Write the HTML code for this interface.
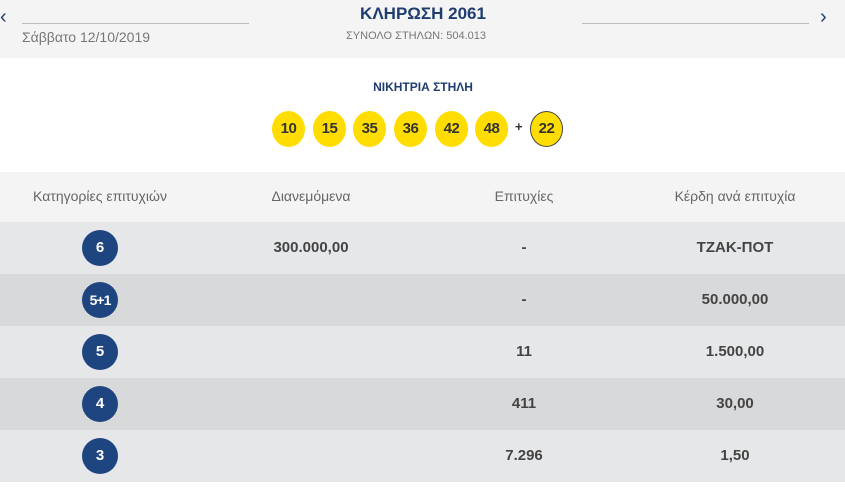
<!DOCTYPE html>
<html><head><meta charset="utf-8"><style>
*{margin:0;padding:0;box-sizing:border-box}
body{width:845px;height:492px;background:#fff;font-family:"Liberation Sans","DejaVu Sans",sans-serif;position:relative;overflow:hidden}
.a{position:absolute}
.c{position:absolute;transform:translateX(-50%);white-space:nowrap}
.ball{position:absolute;width:33px;height:36px;border-radius:50%;background:#ffdd00;top:111px;font-weight:bold;font-size:15px;color:#333;text-align:center;line-height:36px;letter-spacing:-0.5px}
.row{position:absolute;left:0;width:845px;height:52px}
.cat{position:absolute;left:82px;width:36px;height:36px;border-radius:50%;background:#1f4580;color:#fff;font-weight:bold;font-size:15px;text-align:center;line-height:36px;top:8px}
.v{position:absolute;top:0;line-height:52px;font-weight:bold;font-size:15px;color:#444;transform:translateX(-50%);white-space:nowrap}
</style></head><body>
<div class="a" style="left:0;top:0;width:845px;height:58px;background:#f4f4f4"></div>
<div class="a" style="left:0;top:6px;font-size:20px;color:#1f3d70">‹</div>
<div class="a" style="left:820px;top:6px;font-size:20px;color:#1f3d70">›</div>
<div class="a" style="left:22px;top:23px;width:227px;height:1px;background:#bbb"></div>
<div class="a" style="left:582px;top:23px;width:227px;height:1px;background:#bbb"></div>
<div class="a" style="left:22px;top:29px;font-size:14px;color:#777">Σάββατο 12/10/2019</div>
<div class="c" style="left:423px;top:4px;font-size:17px;font-weight:bold;color:#1f3d70">ΚΛΗΡΩΣΗ 2061</div>
<div class="c" style="left:416px;top:30px;font-size:11px;color:#777">ΣΥΝΟΛΟ ΣΤΗΛΩΝ: 504.013</div>
<div class="c" style="left:423px;top:80px;font-size:12px;font-weight:bold;color:#1f3d70">ΝΙΚΗΤΡΙΑ ΣΤΗΛΗ</div>
<div class="ball" style="left:272px">10</div>
<div class="ball" style="left:313px">15</div>
<div class="ball" style="left:353px">35</div>
<div class="ball" style="left:394px">36</div>
<div class="ball" style="left:435px">42</div>
<div class="ball" style="left:475px">48</div>
<div class="a" style="left:515px;top:119px;font-size:13px;font-weight:bold;color:#333">+</div>
<div class="ball" style="left:530px;border:1px solid #444;line-height:34px">22</div>
<div class="a" style="left:0;top:172px;width:845px;height:50px;background:#f4f4f4"></div>
<div class="c" style="left:100px;top:188px;font-size:14px;color:#666">Κατηγορίες επιτυχιών</div>
<div class="c" style="left:311px;top:188px;font-size:14px;color:#666">Διανεμόμενα</div>
<div class="c" style="left:524px;top:188px;font-size:14px;color:#666">Επιτυχίες</div>
<div class="c" style="left:735px;top:188px;font-size:14px;color:#666">Κέρδη ανά επιτυχία</div>
<div class="row" style="top:222px;background:#e6e7e8"><div class="cat">6</div><div class="v" style="left:311px">300.000,00</div><div class="v" style="left:524px">-</div><div class="v" style="left:735px">ΤΖΑΚ-ΠΟΤ</div></div>
<div class="row" style="top:274px;background:#d8d9da"><div class="cat" style="font-size:14px;letter-spacing:-1px">5+1</div><div class="v" style="left:524px">-</div><div class="v" style="left:735px">50.000,00</div></div>
<div class="row" style="top:326px;background:#e6e7e8"><div class="cat">5</div><div class="v" style="left:524px">11</div><div class="v" style="left:735px">1.500,00</div></div>
<div class="row" style="top:378px;background:#d8d9da"><div class="cat">4</div><div class="v" style="left:524px">411</div><div class="v" style="left:735px">30,00</div></div>
<div class="row" style="top:430px;background:#e6e7e8"><div class="cat">3</div><div class="v" style="left:524px">7.296</div><div class="v" style="left:735px">1,50</div></div>
</body></html>
